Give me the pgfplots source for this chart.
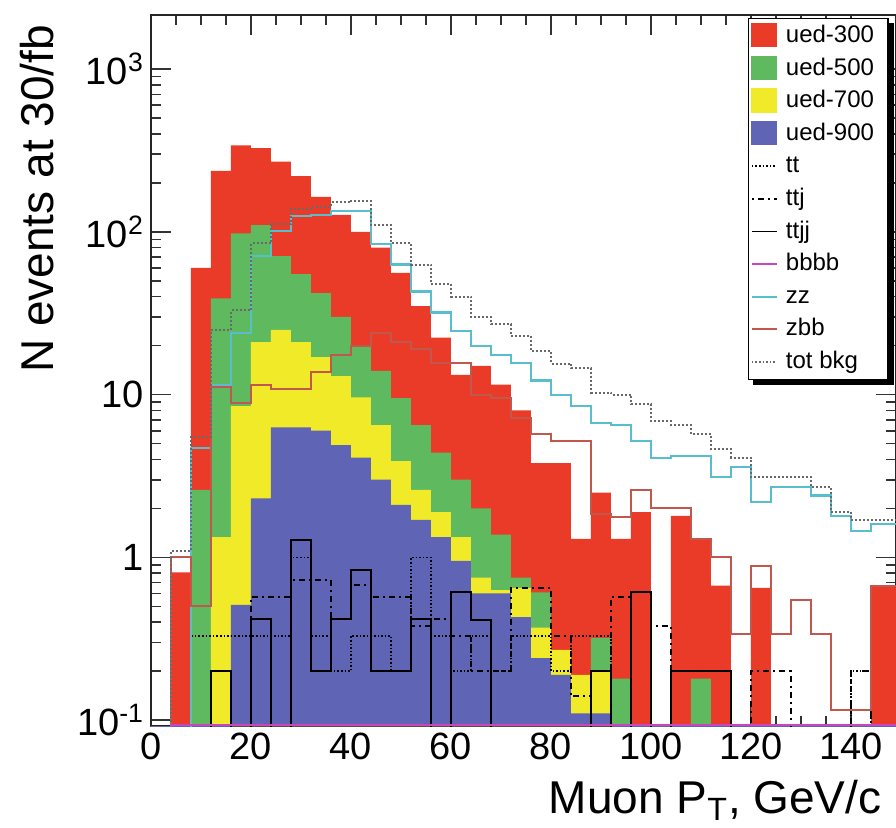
\documentclass[border=0pt]{standalone}
\usepackage{pgfplots}
\pgfplotsset{compat=1.18}
\usepackage{pgfplotstable}
\usepackage{fontspec}
\setmainfont{Liberation Sans}

\definecolor{uedred}{RGB}{234,58,40}
\definecolor{uedgreen}{RGB}{95,185,95}
\definecolor{uedyellow}{RGB}{240,234,40}
\definecolor{uedblue}{RGB}{96,100,180}
\definecolor{zzcyan}{RGB}{88,190,205}
\definecolor{zbbred}{RGB}{192,88,78}
\definecolor{bbmag}{RGB}{200,70,190}
\definecolor{totgray}{RGB}{105,105,105}

% muon pT histograms, 4 GeV/c bins (left bin edge in x); 0.001 marks an empty bin
\pgfplotstableread{
x   r     g     y     b     tt    ttj   ttjj  zz    zbb   tot   bb
0   0.001 0.001 0.001 0.001 0.001 0.001 0.001 0.001 0.001 0.001 0.001
4   0.81  0.001 0.001 0.001 0.001 0.001 0.001 0.001 1.0   1.1   0.093
8   60    2.6   0.001 0.001 0.33  0.001 0.001 4.7   0.5   5.5   0.093
12  237   39    1.33  0.001 0.33  0.001 0.2   11.5  11.2  25    0.093
16  340   98    8.5   0.51  0.33  0.001 0.001 24    8.9   33    0.093
20  327   110   21    2.3   0.33  0.57  0.42  71    11.5  85    0.093
24  270   71    25    6.3   0.33  0.57  0.001 101   10.9  112   0.093
28  220   55    21    6.3   1.0   0.73  1.27  125   10.9  138   0.093
32  164   42    17    6.0   0.33  0.73  0.2   127   13.7  142   0.093
36  127   30    13    4.9   0.2   0.42  0.42  134   17.6  152   0.093
40  100   20    9.6   4.1   0.33  0.68  0.84  134   20    155   0.093
44  80    14    6.5   3.0   0.33  0.57  0.2   84    24    110   0.093
48  56    9.5   3.9   2.1   0.2   0.57  0.2   63    21    85    0.093
52  35    6.5   2.6   1.7   1.0   0.38  0.42  43    19    63    0.093
56  22.4  4.4   1.9   1.33  0.33  0.42  0.001 32    15.7  48    0.093
60  13.2  3.0   1.33  0.95  0.2   0.33  0.61  24.6  15.7  40    0.093
64  15.0  2.0   0.75  0.6   0.33  0.2   0.41  20    10    30    0.093
68  11.5  1.38  0.63  0.6   0.2   0.2   0.001 17.6  9.5   27    0.093
72  8.0   0.75  0.65  0.43  0.33  0.65  0.001 15.7  7.2   23    0.093
76  3.8   0.61  0.37  0.24  0.33  0.65  0.001 12.2  5.7   18.6  0.093
80  3.8   0.25  0.27  0.19  0.2   0.33  0.001 10    5.2   15.5  0.093
84  1.3   0.17  0.19  0.11  0.33  0.14  0.001 8.5   5.2   14.5  0.093
88  2.5   0.32  0.20  0.11  0.33  0.2   0.2   6.7   1.84  10.3  0.093
92  1.3   0.18  0.001 0.001 0.001 0.57  0.001 6.5   1.76  10    0.093
96  1.9   0.001 0.001 0.001 0.001 0.001 0.61  5.2   2.6   8.7   0.093
100 0.001 0.001 0.001 0.001 0.001 0.38  0.001 4.1   2.0   6.9   0.093
104 1.8   0.001 0.001 0.001 0.001 0.2   0.2   4.2   2.0   6.5   0.093
108 1.29  0.18  0.001 0.001 0.001 0.2   0.2   4.2   1.29  5.7   0.093
112 0.67  0.001 0.001 0.001 0.001 0.2   0.2   3.1   1.0   4.6   0.093
116 0.001 0.001 0.001 0.001 0.001 0.001 0.001 3.6   0.34  4.1   0.093
120 0.65  0.001 0.001 0.001 0.001 0.2   0.001 2.2   0.89  3.1   0.093
124 0.001 0.001 0.001 0.001 0.001 0.2   0.001 2.7   0.34  3.1   0.093
128 0.001 0.001 0.001 0.001 0.001 0.001 0.001 2.7   0.55  3.1   0.093
132 0.001 0.001 0.001 0.001 0.001 0.001 0.001 2.4   0.34  2.7   0.093
136 0.001 0.001 0.001 0.001 0.001 0.001 0.001 1.8   0.115 1.9   0.093
140 0.001 0.001 0.001 0.001 0.2   0.2   0.001 1.46  0.115 1.7   0.093
144 0.67  0.001 0.001 0.001 0.001 0.001 0.001 1.6   0.67  1.7   0.093
148 0.67  0.001 0.001 0.001 0.001 0.001 0.001 1.6   0.67  1.7   0.093
152 0.67  0.001 0.001 0.001 0.001 0.001 0.001 1.6   0.67  1.7   0.093
}\muonpt

\pgfplotsset{
  fillimg/.style={legend image code/.code={\fill[#1] (0pt,-5.5pt) rectangle (12.5pt,6pt);}},
  lineimg/.style={legend image code/.code={\draw[#1] (0pt,0pt) -- (12.5pt,0pt);}},
}
\newcommand{\entry}[1]{\addlegendentry{\makebox[50pt][l]{\hspace{2pt}#1}}}

\begin{document}
\begin{tikzpicture}
\path[use as bounding box] (-75.5pt,-50.5pt) rectangle (372.5pt,363pt);
\begin{axis}[
  scale only axis, width=372.5pt, height=355.5pt,
  xmin=0, xmax=149,
  ymode=log, ymin=0.092, ymax=2150, log origin y=infty,
  axis line style={line width=1pt, draw=black!85},
  xtick={0,20,...,140}, minor x tick num=3,
  ytick={0.1,1,10,100,1000},
  yticklabels={10\textsuperscript{-1},1,10,10\textsuperscript{2},10\textsuperscript{3}},
  tick align=inside,
  major tick length=10pt, minor tick length=5pt,
  every tick/.style={black!80, line width=0.8pt},
  ticklabel style={font=\fontsize{19}{19}\selectfont},
  /pgf/number format/assume math mode=true,
  xlabel={Muon P\textsubscript{T}, GeV/c},
  xlabel style={at={(axis description cs:0.99,-0.1224)}, anchor=base east,
    font=\fontsize{23}{23}\selectfont},
  ylabel={N events at 30/fb},
  ylabel style={at={(axis description cs:-0.1315,0.9958)}, anchor=base east,
    font=\fontsize{23}{23}\selectfont},
  legend cell align=left,
  legend style={name=leg, at={(0.99,0.9958)}, anchor=north east,
    draw=black, line width=0.6pt, fill=white,
    font=\fontsize{12}{12}\selectfont,
    inner xsep=1pt, inner ysep=0.5pt, row sep=0pt,
    nodes={inner sep=2pt, text height=9.5pt, text depth=2.8pt}},
]
% signal samples, drawn largest first
\addplot[const plot, fill=uedred, draw=none, forget plot] table[x=x,y=r]{\muonpt} \closedcycle;
\addplot[const plot, fill=uedgreen, draw=none, forget plot] table[x=x,y=g]{\muonpt} \closedcycle;
\addplot[const plot, fill=uedyellow, draw=none, forget plot] table[x=x,y=y]{\muonpt} \closedcycle;
\addplot[const plot, fill=uedblue, draw=none, forget plot] table[x=x,y=b]{\muonpt} \closedcycle;
% backgrounds
\addplot[const plot, black, line width=1pt, forget plot] table[x=x,y=ttjj]{\muonpt};
\addplot[const plot, black, line width=1pt, dash pattern=on 1pt off 2pt on 3pt off 2pt, forget plot] table[x=x,y=ttj]{\muonpt};
\addplot[const plot, black, line width=0.8pt, densely dotted, forget plot] table[x=x,y=tt]{\muonpt};
\addplot[const plot, zzcyan, line width=1.1pt, forget plot] table[x=x,y=zz]{\muonpt};
\addplot[const plot, zbbred, line width=1pt, forget plot] table[x=x,y=zbb]{\muonpt};
\addplot[const plot, totgray, line width=1pt, densely dotted, forget plot] table[x=x,y=tot]{\muonpt};
\addplot[const plot, bbmag, line width=1.2pt, forget plot] table[x=x,y=bb]{\muonpt};

\addlegendimage{fillimg=uedred}\entry{ued-300}
\addlegendimage{fillimg=uedgreen}\entry{ued-500}
\addlegendimage{fillimg=uedyellow}\entry{ued-700}
\addlegendimage{fillimg=uedblue}\entry{ued-900}
\addlegendimage{lineimg={black, line width=0.8pt, densely dotted}}\entry{tt}
\addlegendimage{lineimg={black, line width=1pt, dash pattern=on 1pt off 2pt on 3pt off 2pt}}\entry{ttj}
\addlegendimage{lineimg={black, line width=0.8pt}}\entry{ttjj}
\addlegendimage{lineimg={bbmag, line width=1.2pt}}\entry{bbbb}
\addlegendimage{lineimg={zzcyan, line width=1pt}}\entry{zz}
\addlegendimage{lineimg={zbbred, line width=1pt}}\entry{zbb}
\addlegendimage{lineimg={totgray, line width=0.8pt, densely dotted}}\entry{tot bkg}
\end{axis}
% legend box shadow along the right and lower edges
\fill[black] ([yshift=-2.5pt]leg.north east) rectangle ([xshift=2.5pt,yshift=-2.5pt]leg.south east);
\fill[black] ([xshift=2.5pt]leg.south west) rectangle ([xshift=2.5pt,yshift=-2.5pt]leg.south east);
\end{tikzpicture}
\end{document}
